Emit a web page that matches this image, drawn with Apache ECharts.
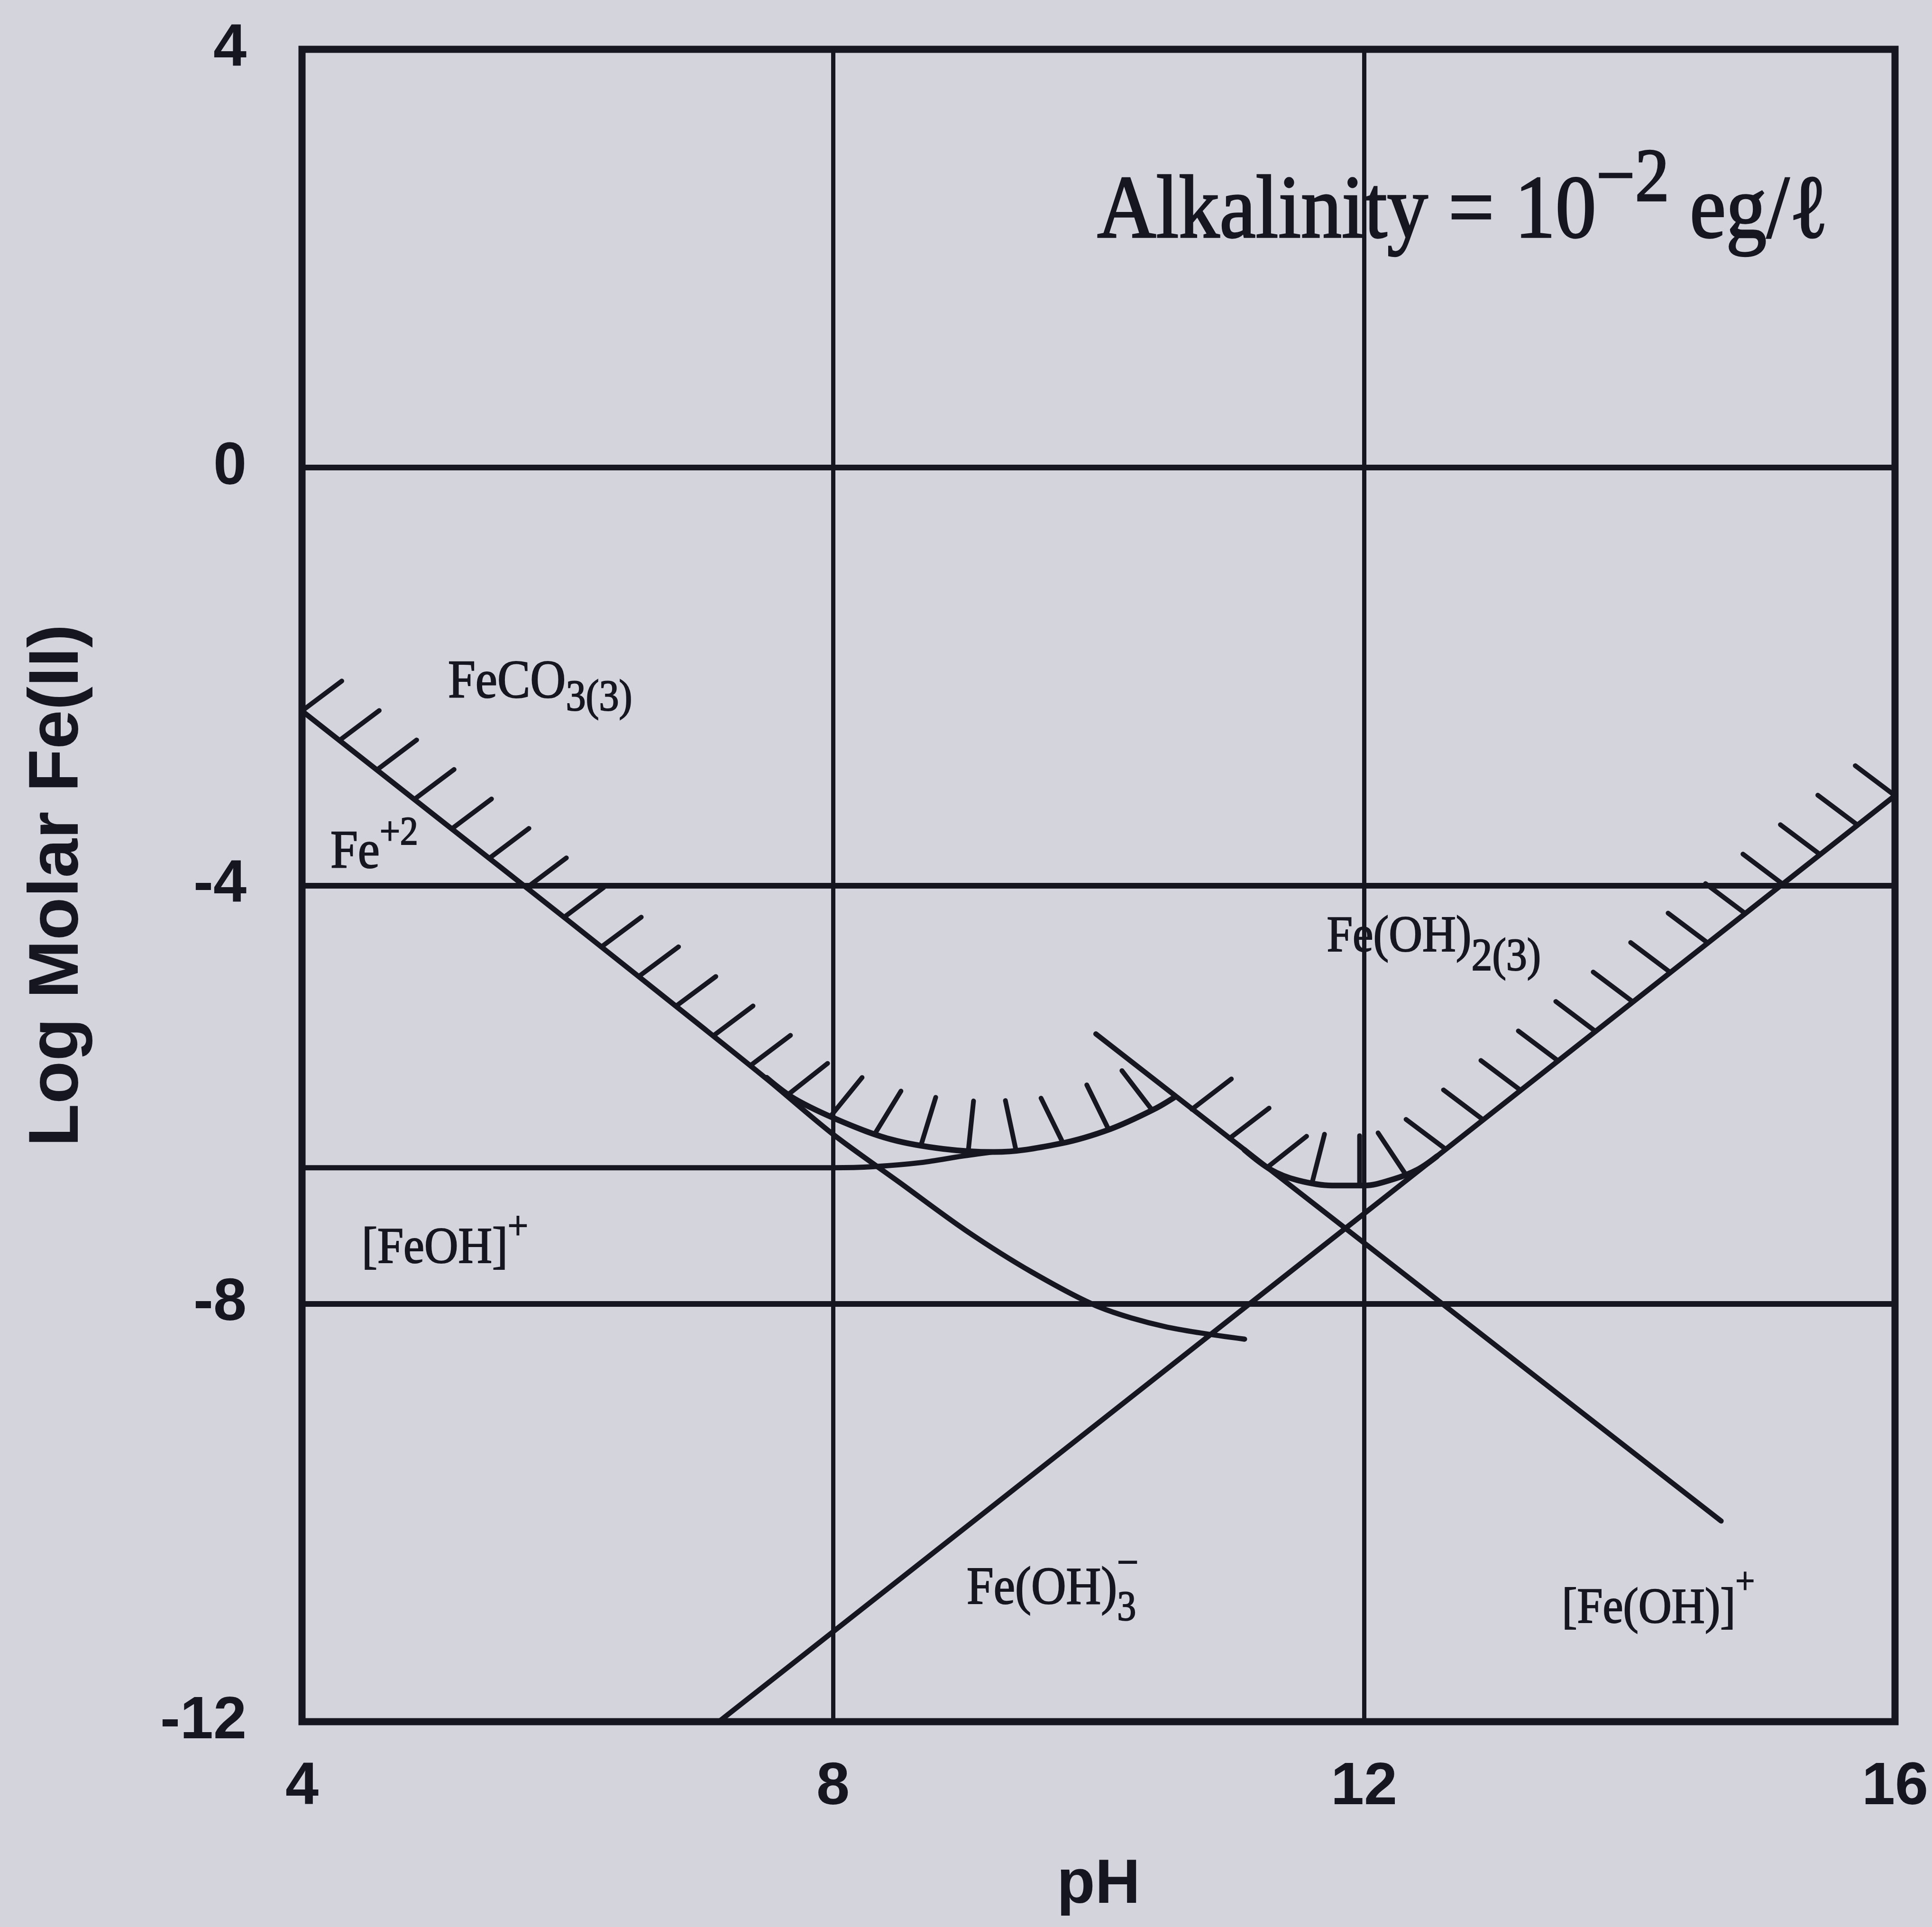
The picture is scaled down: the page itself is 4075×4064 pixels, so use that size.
<!DOCTYPE html>
<html>
<head>
<meta charset="utf-8">
<title>Fe(II) solubility vs pH</title>
<script src="https://cdn.jsdelivr.net/npm/echarts@6/dist/echarts.min.js"></script>
<style>
  html, body { margin: 0; padding: 0; background: #d3d4dc; }
  #chart { width: 4075px; height: 4064px; }
</style>
</head>
<body>
<div id="chart"></div>
<script>
// ---------- axis ticks ----------
const phTicks  = [4, 8, 12, 16];
const logTicks = [-12, -8, -4, 0, 4];

// ---------- Fe+2 in equilibrium with FeCO3(s) ----------
const fe2PH  = [4.0, 5.0, 6.0, 7.0, 7.5, 8.0, 8.5, 9.0, 9.5, 10.0, 10.5, 11.1];
const fe2Log = [-2.33, -3.33, -4.33, -5.34, -5.85, -6.38, -6.84, -7.30, -7.70, -8.03, -8.22, -8.34];

// ---------- [FeOH]+ in equilibrium with FeCO3(s) ----------
const feohPH  = [4.0, 8.0, 8.3, 8.67, 8.97, 9.2];
const feohLog = [-6.70, -6.70, -6.69, -6.65, -6.59, -6.55];

// ---------- total soluble Fe(II) over FeCO3(s) ----------
const totCO3PH  = [7.5, 7.71, 8.07, 8.44, 8.83, 9.21, 9.71, 10.09, 10.42, 10.58];
const totCO3Log = [-5.84, -6.04, -6.26, -6.43, -6.52, -6.55, -6.47, -6.33, -6.14, -6.02];

// ---------- [Fe(OH)]+ over Fe(OH)2(s) ----------
const feohIIPH  = [9.98, 14.69];
const feohIILog = [-5.42, -10.08];

// ---------- Fe(OH)3- over Fe(OH)2(s) ----------
const feoh3PH  = [7.14, 16.0];
const feoh3Log = [-12.0, -3.14];

// ---------- total soluble Fe(II) over Fe(OH)2(s) ----------
const totOHPH  = [11.1, 11.3, 11.5, 11.76, 12.0, 12.22, 12.4, 12.55];
const totOHLog = [-6.53, -6.72, -6.82, -6.87, -6.87, -6.81, -6.72, -6.59];

// ---------- styling ----------
const INK   = '#15161f';
const PAPER = '#d3d4dc';
const SERIF = '"Liberation Serif", "Times New Roman", serif';
const SANS  = '"Liberation Sans", Arial, sans-serif';

const HATCH_STEP = 100;   // px between hatch strokes along the boundary
const HATCH_LEN  = 105;   // px length of each stroke
const HATCH_SKEW = 1.3;   // strokes are normal to the boundary in a y-stretched frame
const TEXT_STRETCH = 1.1; // label glyphs are slightly taller than regular type

function pairs(xs, ys) { return xs.map((x, i) => [x, ys[i]]); }

// Solubility boundary: everything above it is the solid phase (hatched side up)
const boundary = [].concat(
  pairs(fe2PH, fe2Log).filter(p => p[0] < totCO3PH[0]),
  pairs(totCO3PH, totCO3Log),
  pairs(totOHPH, totOHLog),
  [[feoh3PH[feoh3PH.length - 1], feoh3Log[feoh3Log.length - 1]]]
);

// Species labels, anchored at the left end of their baseline (pH, log C)
const speciesLabels = [
  { pos: [5.10, -2.20], size: 104, parts: [{ t: 'FeCO' }, { t: '3(3)', size: 84, dy: 27 }] },
  { pos: [4.214, -3.83], size: 104, parts: [{ t: 'Fe' }, { t: '+2', size: 76, dy: -49 }] },
  { pos: [4.45, -7.61], size: 99, parts: [{ t: '[FeOH]' }, { t: '+', size: 76, dy: -50 }] },
  { pos: [11.72, -4.63], size: 98, parts: [{ t: 'Fe(OH)' }, { t: '2(3)', size: 88, dy: 40 }] },
  { pos: [9.007, -10.87], size: 102, parts: [{ t: 'Fe(OH)' }, { t: '3', size: 80, dy: 34 }, { t: '\u2212', size: 80, dy: -58, stack: true }] },
  { pos: [13.49, -11.05], size: 97, parts: [{ t: '[Fe(OH)]' }, { t: '+', size: 72, dy: -62 }] },
  { pos: [9.99, 2.204], size: 172, parts: [{ t: 'Alkalinity = 10' }, { t: '\u22122', size: 145, dy: -77 }, { t: ' eg/\u2113' }] }
];

// ---------- text measuring ----------
const measureCtx = document.createElement('canvas').getContext('2d');
function fontOf(size) { return size + 'px ' + SERIF; }
function textWidth(text, size) {
  measureCtx.font = fontOf(size);
  return measureCtx.measureText(text).width;
}
// distance from the em-middle (zrender draws text with 'middle' baseline) to the alphabetic baseline
function midToBase(size) {
  measureCtx.font = fontOf(size);
  measureCtx.textBaseline = 'middle';
  const m = measureCtx.measureText('H');
  measureCtx.textBaseline = 'alphabetic';
  const a = measureCtx.measureText('H');
  return m.actualBoundingBoxDescent - a.actualBoundingBoxDescent;
}

function renderLabel(params, api) {
  const L = speciesLabels[params.dataIndex];
  const p = api.coord(L.pos);
  let cursor = p[0];
  let lastStart = p[0];
  const children = [];
  L.parts.forEach(part => {
    const size = part.size || L.size;
    const start = part.stack ? lastStart : cursor;
    const w = textWidth(part.t, size);
    children.push({
      type: 'text',
      x: start,
      y: p[1] + (part.dy || 0),
      scaleY: TEXT_STRETCH,
      style: {
        text: part.t,
        x: 0,
        y: -midToBase(size),
        fontSize: size,
        fontFamily: SERIF,
        fill: INK,
        stroke: INK,
        lineWidth: size > 120 ? 3 : 2,
        align: 'left',
        verticalAlign: 'middle'
      }
    });
    lastStart = start;
    cursor = Math.max(cursor, start + w);
  });
  return { type: 'group', children };
}

function renderHatch(params, api) {
  if (params.dataIndex !== 0) return null;
  const pts = boundary.map(d => api.coord(d));
  const segs = [];
  let total = 0;
  for (let i = 1; i < pts.length; i++) {
    const dx = pts[i][0] - pts[i - 1][0];
    const dy = pts[i][1] - pts[i - 1][1];
    const len = Math.hypot(dx, dy);
    if (len < 1e-6) continue;
    segs.push({ a: pts[i - 1], dx, dy, len, s0: total });
    total += len;
  }
  const n = Math.max(1, Math.round(total / HATCH_STEP));
  const children = [];
  for (let k = 0; k <= n; k++) {
    const s = total * k / n;
    let g = segs[segs.length - 1];
    for (let j = 0; j < segs.length; j++) {
      if (s <= segs[j].s0 + segs[j].len + 1e-6) { g = segs[j]; break; }
    }
    const t = Math.min(1, Math.max(0, (s - g.s0) / g.len));
    const x = g.a[0] + g.dx * t;
    const y = g.a[1] + g.dy * t;
    const tx = g.dx / g.len, ty = g.dy / g.len;
    let nx = HATCH_SKEW * ty, ny = -tx / HATCH_SKEW;
    if (ny > 0) { nx = -nx; ny = -ny; }
    const nl = Math.hypot(nx, ny);
    children.push({
      type: 'line',
      shape: { x1: x, y1: y, x2: x + nx / nl * HATCH_LEN, y2: y + ny / nl * HATCH_LEN },
      style: { stroke: INK, lineWidth: 10, lineCap: 'round' }
    });
  }
  return { type: 'group', children };
}

function curve(name, xs, ys, smooth, width) {
  return {
    name, type: 'line', data: pairs(xs, ys),
    smooth: smooth, showSymbol: false, symbol: 'none',
    lineStyle: { color: INK, width: width || 11, cap: 'round', join: 'round' },
    silent: true, z: 3
  };
}

const chart = echarts.init(document.getElementById('chart'), null, { renderer: 'canvas' });
chart.setOption({
  backgroundColor: PAPER,
  animation: false,
  grid: {
    left: 637, right: 78, top: 104, bottom: 433,
    show: true, borderColor: INK, borderWidth: 15, backgroundColor: 'transparent'
  },
  xAxis: {
    type: 'value',
    min: phTicks[0], max: phTicks[phTicks.length - 1], interval: phTicks[1] - phTicks[0],
    name: 'pH', nameLocation: 'middle', nameGap: 280,
    nameTextStyle: { fontFamily: SANS, fontWeight: 'bold', fontSize: 132, color: INK },
    axisLine: { show: false }, axisTick: { show: false },
    axisLabel: { fontFamily: SANS, fontWeight: 'bold', fontSize: 126, color: INK, margin: 76 },
    splitLine: { show: true, lineStyle: { color: INK, width: 9 } }
  },
  yAxis: {
    type: 'value',
    min: logTicks[0], max: logTicks[logTicks.length - 1], interval: logTicks[1] - logTicks[0],
    name: 'Log Molar Fe(II)', nameLocation: 'middle', nameGap: 440, nameRotate: 90,
    nameTextStyle: { fontFamily: SANS, fontWeight: 'bold', fontSize: 148, color: INK },
    axisLine: { show: false }, axisTick: { show: false },
    axisLabel: { fontFamily: SANS, fontWeight: 'bold', fontSize: 126, color: INK, margin: 117,
                 formatter: v => String(v) },
    splitLine: { show: true, lineStyle: { color: INK, width: 12 } }
  },
  series: [
    curve('Fe+2', fe2PH, fe2Log, 0.3),
    curve('[FeOH]+', feohPH, feohLog, 0.3),
    curve('FeCO3 total', totCO3PH, totCO3Log, 0.35, 12),
    curve('[Fe(OH)]+', feohIIPH, feohIILog, false),
    curve('Fe(OH)3-', feoh3PH, feoh3Log, false),
    curve('Fe(OH)2 total', totOHPH, totOHLog, 0.35, 12),
    {
      name: 'hatch', type: 'custom', data: boundary, renderItem: renderHatch,
      silent: true, z: 4
    },
    {
      name: 'labels', type: 'custom', data: speciesLabels.map(l => l.pos), renderItem: renderLabel,
      silent: true, z: 5, clip: false
    }
  ]
});
</script>
</body>
</html>
